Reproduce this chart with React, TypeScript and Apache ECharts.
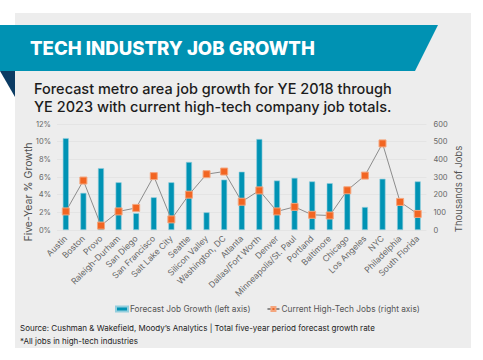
import React, { useEffect, useRef } from "react";
import * as echarts from "echarts";

const categories = [
  "Austin", "Boston", "Provo", "Raleigh-Durham", "San Diego", "San Francisco",
  "Salt Lake City", "Seattle", "Silicon Valley", "Washington, DC", "Atlanta",
  "Dallas/Fort Worth", "Denver", "Minneapolis/St. Paul", "Portland", "Baltimore",
  "Chicago", "Los Angeles", "NYC", "Philadelphia", "South Florida",
];
const jobGrowth = [10.4, 4.2, 7.0, 5.4, 1.9, 3.7, 5.4, 7.7, 2.0, 5.7, 6.6, 10.3, 5.6, 5.9, 5.5, 5.3, 4.5, 2.6, 5.8, 3.3, 5.5];
const techJobs = [105, 280, 25, 105, 125, 305, 60, 200, 316, 331, 160, 224, 105, 131, 86, 82, 225, 308, 490, 159, 91];

const title = "TECH INDUSTRY JOB GROWTH";
const subtitle1 = "Forecast metro area job growth for YE 2018 through";
const subtitle2 = "YE 2023 with current high-tech company job totals.";
const footer1 = "Source: Cushman & Wakefield, Moody\u2019s Analytics | Total five-year period forecast growth rate";
const footer2 = "*All jobs in high-tech industries";
const leftName = "Five-Year % Growth";
const rightName = "Thousands of Jobs";
const barName = "Forecast Job Growth (left axis)";
const lineName = "Current High-Tech Jobs (right axis)";

const FONT = "Inter, 'Open Sans', sans-serif";

export default function App() {
  const ref = useRef<HTMLDivElement>(null);
  useEffect(() => {
    document.body.style.margin = "0";
    if (!ref.current) return;
    const chart = echarts.init(ref.current, null, { renderer: "svg" });
    chart.setOption({
      animation: false,
      backgroundColor: "#ffffff",
      textStyle: { fontFamily: FONT },
      graphic: [
        { type: "rect", z: -10, shape: { x: 15, y: 13, width: 456, height: 335 }, style: { fill: "#EDEDED" } },
        { type: "polygon", z: 1, shape: { points: [[0, 25], [438, 25], [415, 71], [0, 71]] }, style: { fill: "#0092B3" } },
        { type: "polygon", z: 1, shape: { points: [[0, 71], [15, 71], [15, 97]] }, style: { fill: "#0B3B63" } },
        { type: "text", z: 2, x: 30, y: 48, style: { text: title, fill: "#ffffff", font: `800 18.6px ${FONT}`, verticalAlign: "middle" } },
        { type: "text", z: 2, x: 34, y: 88.5, style: { text: subtitle1, fill: "#1c1c1c", font: `500 14.5px ${FONT}`, verticalAlign: "middle" } },
        { type: "text", z: 2, x: 34, y: 106, style: { text: subtitle2, fill: "#1c1c1c", font: `500 14.5px ${FONT}`, verticalAlign: "middle" } },
        { type: "text", z: 2, x: 28, y: 192, rotation: Math.PI / 2, style: { text: leftName, fill: "#555", font: `400 10.5px ${FONT}`, align: "center", verticalAlign: "middle" } },
        { type: "text", z: 2, x: 458, y: 189, rotation: Math.PI / 2, style: { text: rightName, fill: "#555", font: `400 9.5px ${FONT}`, align: "center", verticalAlign: "middle" } },
        { type: "text", z: 2, x: 20, y: 328, style: { text: footer1, fill: "#222", font: `400 8px ${FONT}`, verticalAlign: "middle" } },
        { type: "text", z: 2, x: 20, y: 341, style: { text: footer2, fill: "#222", font: `400 8px ${FONT}`, verticalAlign: "middle" } },
      ],
      legend: {
        left: 110,
        top: 300,
        itemWidth: 12,
        itemHeight: 5,
        itemGap: 16,
        textStyle: { fontSize: 8.3, color: "#555", padding: [0, 0, 0, -3] },
        data: [
          { name: barName, icon: "rect" },
          { name: lineName },
        ],
      },
      grid: { left: 57, right: 56.5, top: 124, bottom: 130 },
      xAxis: {
        type: "category",
        data: categories,
        axisLine: { show: false },
        axisTick: { show: false },
        axisLabel: { rotate: 45, fontSize: 8.5, color: "#666", margin: 7, interval: 0 },
      },
      yAxis: [
        {
          type: "value",
          min: 0,
          max: 12,
          interval: 2,
          axisLabel: { formatter: "{value}%", fontSize: 7.5, color: "#666", margin: 6 },
          axisLine: { show: false },
          axisTick: { show: false },
          splitLine: { lineStyle: { color: "#E4E4E4", width: 1 } },
        },
        {
          type: "value",
          min: 0,
          max: 600,
          interval: 100,
          axisLabel: { fontSize: 7.5, color: "#666", margin: 7 },
          axisLine: { show: false },
          axisTick: { show: false },
          splitLine: { show: false },
        },
      ],
      series: [
        {
          name: barName,
          type: "bar",
          data: jobGrowth,
          barWidth: 6,
          itemStyle: { color: "#0093B4", borderColor: "#93CEDD", borderWidth: 0.6 },
        },
        {
          name: lineName,
          type: "line",
          yAxisIndex: 1,
          data: techJobs,
          symbol: "rect",
          symbolSize: 7,
          lineStyle: { color: "#8C8C8C", width: 1 },
          itemStyle: { color: "#F26522", borderColor: "#F4A67E", borderWidth: 1 },
        },
      ],
    });
    return () => chart.dispose();
  }, []);
  return <div ref={ref} style={{ width: 483, height: 360 }} />;
}
